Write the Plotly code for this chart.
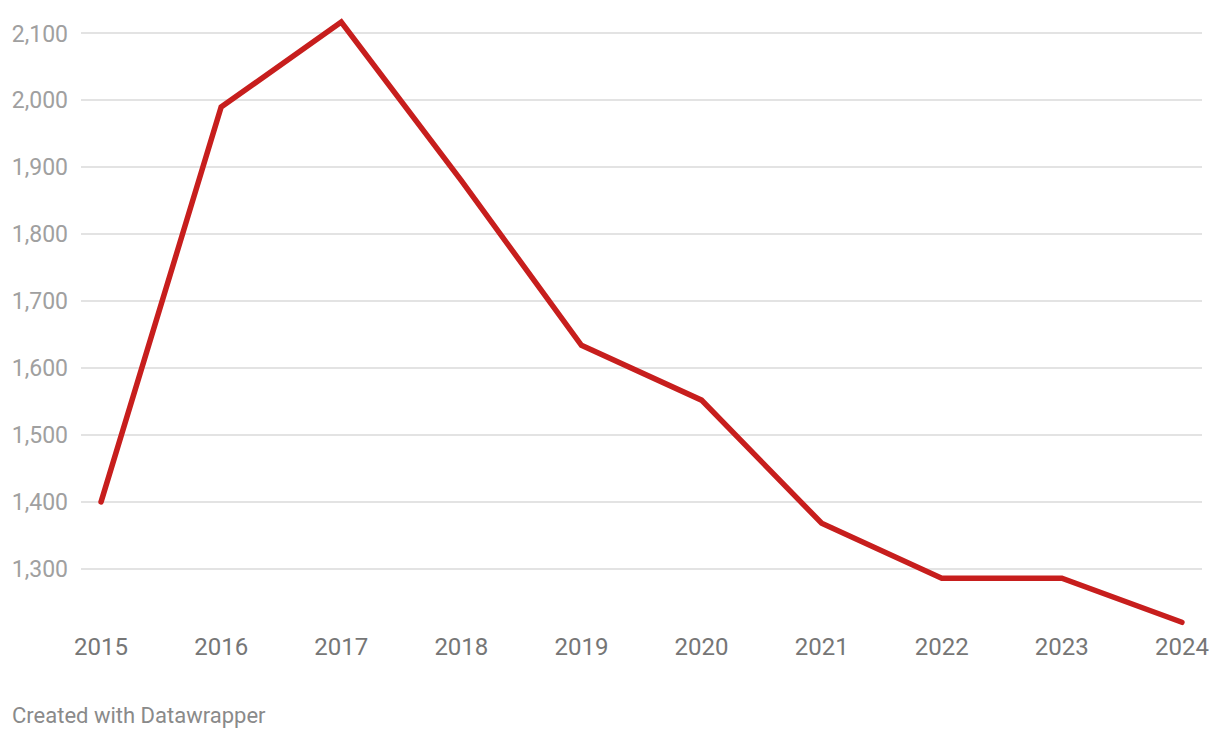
import plotly.graph_objects as go

years = [2015, 2016, 2017, 2018, 2019, 2020, 2021, 2022, 2023, 2024]
values = [1400, 1990, 2117, 1880, 1634, 1552, 1368, 1286, 1286, 1220]
y_ticks = [1300, 1400, 1500, 1600, 1700, 1800, 1900, 2000, 2100]

fig = go.Figure()
fig.add_trace(go.Scatter(
    x=years, y=values, mode="lines",
    line=dict(color="#c71e1d", width=5.5),
    hoverinfo="skip", showlegend=False,
))

fig.update_layout(
    width=1220, height=738,
    margin=dict(l=81, r=18, t=0, b=105),
    plot_bgcolor="white", paper_bgcolor="white",
    font=dict(family="Roboto", size=21),
    xaxis=dict(
        range=[2014.833, 2024.167],
        tickvals=years, ticktext=[str(y) for y in years],
        showgrid=False, zeroline=False, showline=False,
        tickfont=dict(color="#767676", size=24, family="Roboto"),
        ticks="", ticklabelstandoff=-3, fixedrange=True,
    ),
    yaxis=dict(
        range=[1204, 2150],
        tickvals=y_ticks, tickformat=",",
        showgrid=True, gridcolor="#e3e3e3", gridwidth=1.5,
        zeroline=False, showline=False,
        tickfont=dict(color="#a0a0a0", size=23, family="Roboto"),
        ticks="", ticklabelstandoff=12, fixedrange=True,
    ),
    annotations=[dict(
        text="Created with Datawrapper",
        xref="paper", yref="paper",
        x=-71 / 1121, y=-82 / 633,
        xanchor="left", yanchor="middle",
        showarrow=False,
        font=dict(color="#8a8a8a", size=22, family="Roboto"),
    )],
)

fig.write_html(
    "out.html",
    config={"displayModeBar": False},
    post_script="document.body.style.margin='0';document.body.style.overflow='hidden';"
                "document.querySelectorAll('.scatterlayer path.js-line').forEach(function(p){p.style.strokeLinecap='round';});",
)
